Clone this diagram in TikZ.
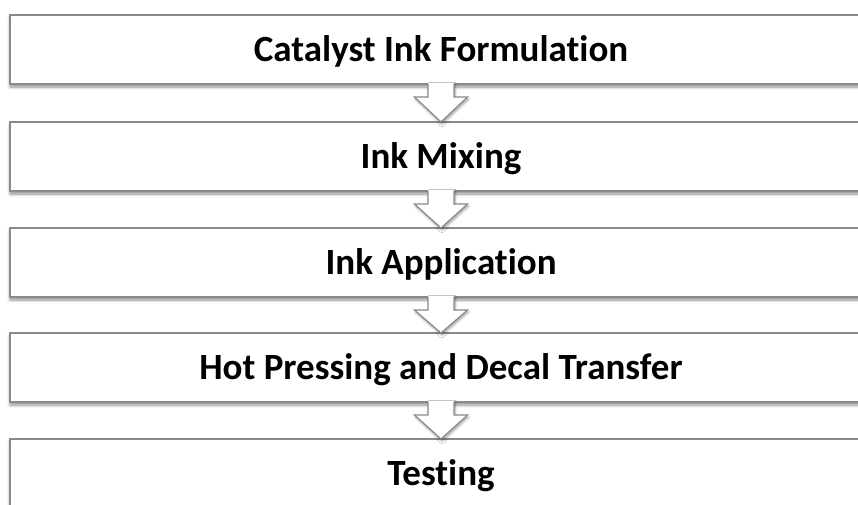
\documentclass[tikz,border=0pt]{standalone}
\usepackage{fontspec}
\setmainfont{Carlito}[Ligatures=NoCommon]
\usetikzlibrary{calc,shadows.blur}

\definecolor{edge}{HTML}{8A8A8A}

\tikzset{
  stagebox/.style={
    draw=edge, line width=1.2pt, fill=white,
    minimum width=862pt, minimum height=69pt,
    inner sep=0pt, outer sep=0pt,
    text height=23pt, text depth=0pt,
    font=\fontsize{37}{42}\selectfont\bfseries,
    blur shadow={shadow xshift=0pt, shadow yshift=-3pt,
                 shadow blur steps=6, shadow opacity=45, shadow blur radius=3pt}
  },
  arrowfill/.style={
    fill=white,
    blur shadow={shadow xshift=1pt, shadow yshift=-2pt,
                 shadow blur steps=5, shadow opacity=40, shadow blur radius=2.5pt}
  },
  arrowedge/.style={draw=edge, line width=1.2pt, line join=miter}
}

\newcommand{\flowarrow}[2]{%
  % white block arrow hanging from box #1 down to the top of box #2
  \path[arrowfill]
    ($(#1.south)+(-13,-1)$) -- ($(#1.south)+(-13,13)$) -- ($(#1.south)+(-26.5,13)$)
    -- (#2.north) -- ($(#1.south)+(26.5,13)$) -- ($(#1.south)+(13,13)$)
    -- ($(#1.south)+(13,-1)$) -- cycle;
  \draw[arrowedge]
    ($(#1.south)+(-13,0)$) -- ($(#1.south)+(-13,13)$) -- ($(#1.south)+(-26.5,13)$)
    -- (#2.north) -- ($(#1.south)+(26.5,13)$) -- ($(#1.south)+(13,13)$)
    -- ($(#1.south)+(13,0)$);
}

\begin{document}
\begin{tikzpicture}[x=1pt,y=-1pt]
  \useasboundingbox (0,0) rectangle (858,504);
  \clip (0,0) rectangle (858,504);

  \node[stagebox] (b1) at (441,49.5)  {Catalyst Ink Formulation};
  \node[stagebox] (b2) at (441,156.5) {Ink Mixing};
  \node[stagebox] (b3) at (441,262.5) {Ink Application};
  \node[stagebox] (b4) at (441,367.5) {Hot Pressing and Decal Transfer};
  \node[stagebox] (b5) at (441,473.5) {Testing};

  \flowarrow{b1}{b2}
  \flowarrow{b2}{b3}
  \flowarrow{b3}{b4}
  \flowarrow{b4}{b5}
\end{tikzpicture}
\end{document}
